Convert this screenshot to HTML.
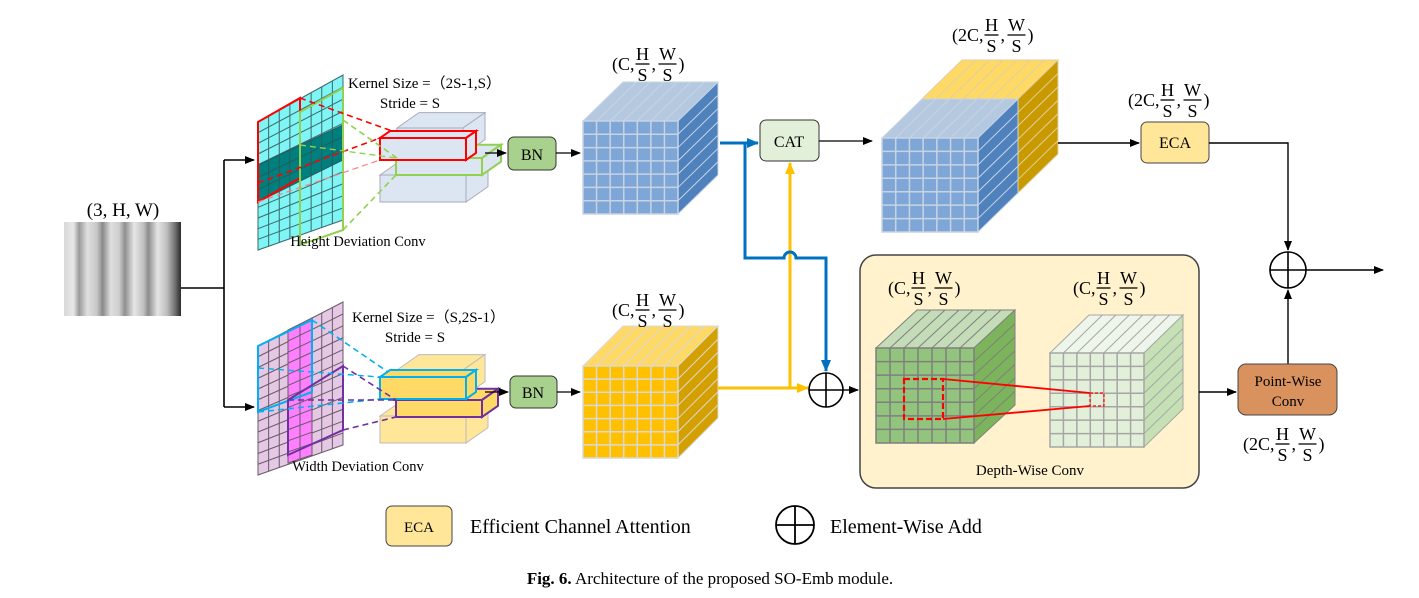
<!DOCTYPE html>
<html><head><meta charset="utf-8"><style>
html,body{margin:0;padding:0;background:#fff;}
svg{display:block;font-family:"Liberation Serif",serif;}
</style></head><body>
<svg id="s" width="1419" height="598" viewBox="0 0 1419 598" xmlns="http://www.w3.org/2000/svg">
<defs>
<marker id="ah" markerWidth="10" markerHeight="8" refX="9" refY="4" orient="auto" markerUnits="userSpaceOnUse"><path d="M0,0 L10,4 L0,8 z" fill="#000"/></marker>
<marker id="ahb" markerWidth="12" markerHeight="10" refX="11" refY="5" orient="auto" markerUnits="userSpaceOnUse"><path d="M0,0 L12,5 L0,10 z" fill="#0070c0"/></marker>
<marker id="ahy" markerWidth="12" markerHeight="10" refX="11" refY="5" orient="auto" markerUnits="userSpaceOnUse"><path d="M0,0 L12,5 L0,10 z" fill="#ffc000"/></marker>
<linearGradient id="img" x1="0" x2="1" y1="0" y2="0">
<stop offset="0" stop-color="#d8d8d8"/><stop offset="0.08" stop-color="#e8e8e8"/><stop offset="0.13" stop-color="#9a9a9a"/><stop offset="0.2" stop-color="#e0e0e0"/><stop offset="0.28" stop-color="#c8c8c8"/><stop offset="0.33" stop-color="#8a8a8a"/><stop offset="0.4" stop-color="#dedede"/><stop offset="0.47" stop-color="#cfcfcf"/><stop offset="0.52" stop-color="#8f8f8f"/><stop offset="0.6" stop-color="#e6e6e6"/><stop offset="0.68" stop-color="#c0c0c0"/><stop offset="0.72" stop-color="#8c8c8c"/><stop offset="0.8" stop-color="#e4e4e4"/><stop offset="0.88" stop-color="#bdbdbd"/><stop offset="0.95" stop-color="#707070"/><stop offset="1" stop-color="#2a2a2a"/>
</linearGradient>
</defs>

<!-- input -->
<text x="123" y="216" font-size="19" text-anchor="middle">(3, H, W)</text>
<rect x="64" y="222" width="117" height="94" fill="url(#img)"/>
<path d="M181,288 H224 M224,160 V407" stroke="#000" stroke-width="1.6" fill="none"/>
<path d="M224,160 H254" stroke="#000" stroke-width="1.6" marker-end="url(#ah)"/>
<path d="M224,407 H254" stroke="#000" stroke-width="1.6" marker-end="url(#ah)"/>

<!-- depthwise panel -->
<rect x="860" y="255" width="339" height="233" rx="16" fill="#fff2cc" stroke="#444" stroke-width="1.5"/>
<text x="1030" y="475" font-size="15" text-anchor="middle">Depth-Wise Conv</text>

<g id="dyn"></g>

<!-- texts top branch -->
<text x="348" y="88" font-size="15">Kernel Size =（2S-1,S）</text>
<text x="410" y="108" font-size="15" text-anchor="middle">Stride = S</text>
<text x="358" y="246" font-size="14.5" text-anchor="middle">Height Deviation Conv</text>
<text x="352" y="322" font-size="15">Kernel Size =（S,2S-1）</text>
<text x="415" y="342" font-size="15" text-anchor="middle">Stride = S</text>
<text x="358" y="471" font-size="14.5" text-anchor="middle">Width Deviation Conv</text>

<!-- BN boxes -->
<path d="M485,153 H506" stroke="#000" stroke-width="1.3" marker-end="url(#ah)"/>
<rect x="508" y="137" width="48" height="33" rx="6" fill="#a9d18e" stroke="#333"/>
<text x="532" y="160" font-size="16" text-anchor="middle">BN</text>
<path d="M556,153 H580" stroke="#000" stroke-width="1.3" marker-end="url(#ah)"/>
<path d="M485,392 H508" stroke="#000" stroke-width="1.3" marker-end="url(#ah)"/>
<rect x="510" y="376" width="47" height="32" rx="6" fill="#a9d18e" stroke="#333"/>
<text x="533" y="398" font-size="16" text-anchor="middle">BN</text>
<path d="M557,392 H580" stroke="#000" stroke-width="1.3" marker-end="url(#ah)"/>

<!-- blue / yellow routes -->
<path d="M790,388 V163" stroke="#ffc000" stroke-width="3" fill="none" marker-end="url(#ahy)"/>
<path d="M718,388 H808" stroke="#ffc000" stroke-width="3" fill="none" marker-end="url(#ahy)"/>
<path d="M720,143 H758" stroke="#0070c0" stroke-width="3" fill="none" marker-end="url(#ahb)"/>
<path d="M745,143 V258 H784 A6,6 0 0 1 796,258 H826 V371" stroke="#0070c0" stroke-width="3" fill="none" marker-end="url(#ahb)"/>

<!-- CAT -->
<rect x="760" y="120" width="59" height="41" rx="6" fill="#e2efd9" stroke="#333"/>
<text x="789" y="147" font-size="16" text-anchor="middle">CAT</text>
<path d="M819,141 H872" stroke="#000" stroke-width="1.3" marker-end="url(#ah)"/>

<!-- add circle mid -->
<circle cx="826" cy="390" r="17" fill="#fff" stroke="#000" stroke-width="1.6"/>
<path d="M809,390 H843 M826,373 V407" stroke="#000" stroke-width="1.6"/>
<path d="M843,390 H858" stroke="#000" stroke-width="1.4" marker-end="url(#ah)"/>

<!-- ECA & right side -->
<path d="M1058,143 H1139" stroke="#000" stroke-width="1.4" marker-end="url(#ah)"/>
<rect x="1141" y="122" width="68" height="41" rx="6" fill="#ffe699" stroke="#444"/>
<text x="1175" y="148" font-size="16" text-anchor="middle">ECA</text>
<path d="M1209,143 H1288 V250" stroke="#000" stroke-width="1.4" fill="none" marker-end="url(#ah)"/>
<circle cx="1288" cy="270" r="18" fill="#fff" stroke="#000" stroke-width="1.6"/>
<path d="M1270,270 H1306 M1288,252 V288" stroke="#000" stroke-width="1.6"/>
<path d="M1306,270 H1383" stroke="#000" stroke-width="1.4" marker-end="url(#ah)"/>
<path d="M1288,364 V290" stroke="#000" stroke-width="1.4" marker-end="url(#ah)"/>
<path d="M1199,392 H1236" stroke="#000" stroke-width="1.4" marker-end="url(#ah)"/>
<rect x="1238" y="364" width="99" height="51" rx="8" fill="#d9925e" stroke="#444"/>
<text x="1288" y="386" font-size="15" text-anchor="middle">Point-Wise</text>
<text x="1288" y="406" font-size="15" text-anchor="middle">Conv</text>

<!-- legend -->
<rect x="386" y="506" width="66" height="40" rx="6" fill="#ffe699" stroke="#444"/>
<text x="419" y="532" font-size="15" text-anchor="middle">ECA</text>
<text x="470" y="533" font-size="20">Efficient Channel Attention</text>
<circle cx="795" cy="525" r="19" fill="#fff" stroke="#000" stroke-width="1.8"/>
<path d="M776,525 H814 M795,506 V544" stroke="#000" stroke-width="1.8"/>
<text x="830" y="533" font-size="20">Element-Wise Add</text>
<text x="710" y="584" font-size="17" text-anchor="middle"><tspan font-weight="bold">Fig. 6.</tspan>  Architecture of the proposed SO-Emb module.</text>
</svg>
<script>
var NS="http://www.w3.org/2000/svg",g=document.getElementById("dyn");
function el(t,a,txt){var e=document.createElementNS(NS,t);for(var k in a)e.setAttribute(k,a[k]);if(txt)e.textContent=txt;g.appendChild(e);return e;}
function poly(pts,f,s,sw,da){var a={points:pts.map(p=>p.join(",")).join(" "),fill:f||"none",stroke:s||"none","stroke-width":sw||1};if(da)a["stroke-dasharray"]=da;return el("polygon",a);}
function line(x1,y1,x2,y2,s,sw,da){var a={x1:x1,y1:y1,x2:x2,y2:y2,stroke:s,"stroke-width":sw||1};if(da)a["stroke-dasharray"]=da;return el("line",a);}
function cube(x,y,w,h,dx,dy,cf,ct,cr,gc,n,front){
 poly([[x,y],[x+dx,y-dy],[x+w+dx,y-dy],[x+w,y]],ct,gc);
 poly([[x+w,y],[x+w+dx,y-dy],[x+w+dx,y+h-dy],[x+w,y+h]],cr,gc);
 for(var i=1;i<n;i++){var t=i/n;
  line(x+w*t,y,x+w*t+dx,y-dy,gc,1);
  line(x+w,y+h*t,x+w+dx,y+h*t-dy,gc,1);}
 if(front!==false){el("rect",{x:x,y:y,width:w,height:h,fill:cf,stroke:gc,"stroke-width":1.5});
 for(var i=1;i<n;i++){line(x+w*i/n,y,x+w*i/n,y+h,gc,1.5);line(x,y+h*i/n,x+w,y+h*i/n,gc,1.5);}}
}
function grid(p,fill,gc,cols,rows){
 poly(p,fill,gc);
 function L(a,b,t){return [a[0]+(b[0]-a[0])*t,a[1]+(b[1]-a[1])*t];}
 for(var i=1;i<cols;i++){var a=L(p[0],p[1],i/cols),b=L(p[3],p[2],i/cols);line(a[0],a[1],b[0],b[1],gc,1);}
 for(var j=1;j<rows;j++){var a=L(p[0],p[3],j/rows),b=L(p[1],p[2],j/rows);line(a[0],a[1],b[0],b[1],gc,1);}
}
function frac(x,y,pre,fs){fs=fs||18;
 var t=el("text",{x:x,y:y,"font-size":fs},"("+pre+",");var w=t.getComputedTextLength();
 var cx=x+w+2;
 el("text",{x:cx+6,y:y-10,"font-size":fs,"text-anchor":"middle"},"H");line(cx-1,y-6,cx+13,y-6,"#000",1.3);
 el("text",{x:cx+6,y:y+11,"font-size":fs,"text-anchor":"middle"},"S");
 el("text",{x:cx+15,y:y,"font-size":fs},",");
 var c2=cx+23;
 el("text",{x:c2+8,y:y-10,"font-size":fs,"text-anchor":"middle"},"W");line(c2-1,y-6,c2+17,y-6,"#000",1.3);
 el("text",{x:c2+8,y:y+11,"font-size":fs,"text-anchor":"middle"},"S");
 el("text",{x:c2+19,y:y,"font-size":fs},")");
}
grid([[258,122],[343,75],[343,220],[258,250]],"#7ff5f5","#3a6a6a",8,12);
poly([[258,165],[343,125],[343,160],[258,202]],"#007f7f","none");
grid([[258,165],[343,125],[343,160],[258,202]],"none","#2a5a5a",8,3);
poly([[258,122],[300,98],[300,178],[258,202]],"none","#ff0000",2);
poly([[300,112],[343,88],[343,230],[300,245]],"none","#92d050",2);
function box(x,y,w,h,d,f,s,sw){poly([[x,y],[x+d,y-d*0.7],[x+w+d,y-d*0.7],[x+w,y]],f,s,sw);poly([[x+w,y],[x+w+d,y-d*0.7],[x+w+d,y+h-d*0.7],[x+w,y+h]],f,s,sw);el("rect",{x:x,y:y,width:w,height:h,fill:f,stroke:s,"stroke-width":sw});}
box(397,128,66,27,22,"#dce6f2","#aab",1);
box(380,175,86,27,22,"#dce6f2","#aab",1);
box(396,158,86,17,19,"#dce6f2","#92d050",2);
box(380,138,86,22,10,"#dce6f2","#ff0000",2);
line(258,183,380,138,"#ff0000",1.6,"6,4");line(300,98,392,131,"#ff0000",1.6,"6,4");line(258,202,380,160,"#ff8080",1.2,"6,4");
line(343,120,397,158,"#92d050",1.6,"6,4");line(343,230,396,175,"#92d050",1.6,"6,4");line(300,145,396,158,"#92d050",1.4,"6,4");
grid([[258,346],[343,302],[343,445],[258,475]],"#e4c8e4","#6a5a6a",8,12);
poly([[288,330],[312,318],[312,455],[288,463]],"#ff80ff","none");
grid([[288,330],[312,318],[312,455],[288,463]],"none","#6a5a6a",2,12);
poly([[258,346],[312,320],[312,392],[258,412]],"none","#00b0f0",2);
poly([[288,400],[343,366],[343,430],[288,455]],"none","#7030a0",2);
box(397,370,66,27,22,"#ffe699","#bbb",1);
box(380,416,86,27,22,"#ffe699","#bbb",1);
box(396,400,86,17,16,"#ffd966","#7030a0",2);
box(380,377,86,22,10,"#ffd966","#00b0f0",2);
line(258,412,380,399,"#00b0f0",1.6,"6,4");line(312,320,388,372,"#00b0f0",1.6,"6,4");line(258,368,380,377,"#00b0f0",1.4,"6,4");
line(343,366,396,400,"#7030a0",1.6,"6,4");line(343,430,396,417,"#7030a0",1.6,"6,4");line(288,400,396,400,"#7030a0",1.4,"6,4");
cube(583,121,95,93,40,39,"#7ea6d6","#b4c8e0","#4f81bd","#c8d4e4",7);
frac(612,70,"C",18);
cube(583,366,95,92,40,40,"#ffc000","#ffd966","#d4a000","#d9d9d9",7);
frac(612,316,"C",18);
cube(922,99,96,94,40,39,"#ffc000","#ffd966","#c99a00","#e0d0a0",7,false);
cube(882,138,96,94,40,39,"#7ea6d6","#b4c8e0","#4f81bd","#c8d4e4",7);
frac(952,41,"2C",18);
frac(1128,106,"2C",18);
frac(1243,450,"2C",18);
cube(876,348,98,95,41,38,"#92c47d","#c5dcb8","#7cb45c","#7f7f7f",7);
cube(1050,353,94,94,39,38,"#e2efd9","#eef5ea","#c5e0b4","#a6a6a6",7);
frac(888,294,"C",18);frac(1073,294,"C",18);
el("rect",{x:904,y:379,width:39,height:40,fill:"none",stroke:"#ff0000","stroke-width":2.2,"stroke-dasharray":"6,3"});
el("rect",{x:1090,y:393,width:14,height:13,fill:"none",stroke:"#ff0000","stroke-width":1.2,"stroke-dasharray":"3,2"});
line(943,379,1090,393,"#ff0000",1.8);line(943,419,1090,406,"#ff0000",1.8);
</script>
</body></html>
